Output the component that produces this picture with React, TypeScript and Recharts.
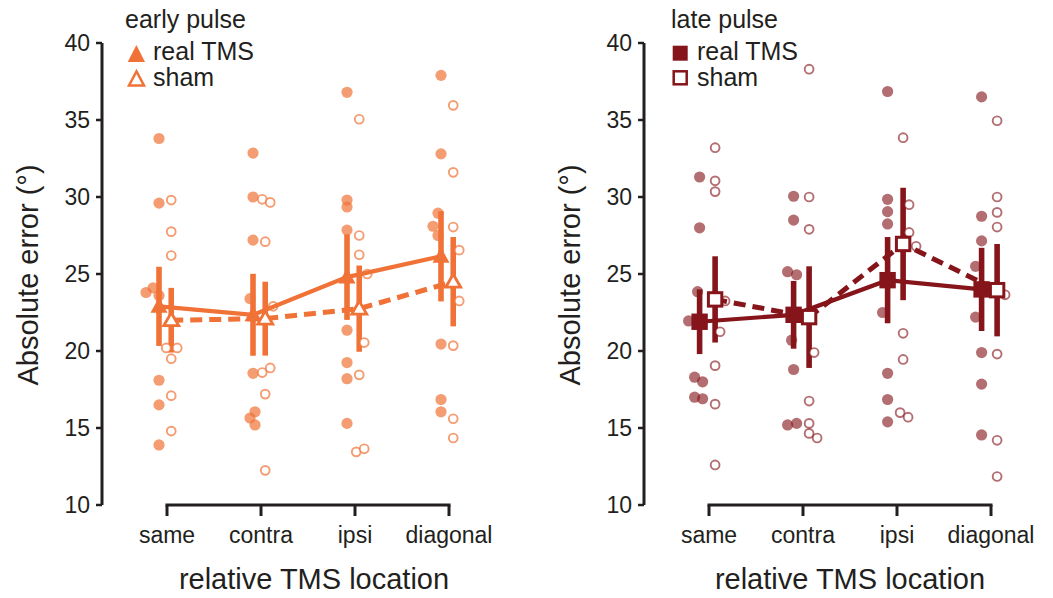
import React from 'react';
import { ComposedChart, Scatter, XAxis, YAxis, ErrorBar, ReferenceLine } from 'recharts';

const categories = ['same', 'contra', 'ipsi', 'diagonal'];
const yTicks = [10, 15, 20, 25, 30, 35, 40];

// early pulse
const earlyRealMean = [22.9, 22.35, 24.8, 26.15];
const earlyRealErr = [2.57, 2.66, 2.78, 2.93];
const earlyShamMean = [22.0, 22.1, 22.75, 24.5];
const earlyShamErr = [2.1, 2.4, 2.8, 2.9];
const earlyRealPts = [
  [33.8, 29.6, 24.1, 23.8, 23.6, 18.1, 16.5, 13.9],
  [32.85, 30.0, 27.2, 23.4, 18.55, 16.05, 15.65, 15.2],
  [36.8, 29.8, 29.35, 27.85, 21.35, 19.25, 18.2, 15.3],
  [37.9, 32.8, 28.95, 28.1, 27.5, 20.45, 16.85, 16.05],
];
const earlyRealJitter = [
  [0, 0, -6, -13, 0, 0, 0, 0],
  [0, 0, 0, -3, 0, 2, -3, 2],
  [0, 0, 0, 0, 0, 0, 0, 0],
  [0, 0, -3, -8, -3, 0, 0, 0],
];
const earlyShamPts = [
  [29.8, 27.75, 26.2, 20.2, 20.2, 19.5, 17.1, 14.8],
  [29.85, 29.65, 27.1, 22.9, 18.6, 18.9, 17.2, 12.25],
  [35.05, 27.5, 26.25, 25.0, 20.55, 18.45, 13.45, 13.65],
  [35.95, 31.6, 28.05, 26.55, 23.25, 20.35, 15.6, 14.35],
];
const earlyShamJitter = [
  [0, 0, 0, -5, 6, 0, 0, 0],
  [-3, 5, 0, 8, -3, 5, 0, 0],
  [0, 0, 0, 8, 5, 0, -3, 5],
  [0, 0, 0, 6, 6, 0, 0, 0],
];

// late pulse
const lateRealMean = [21.9, 22.35, 24.6, 24.0];
const lateRealErr = [2.1, 2.2, 2.8, 2.7];
const lateShamMean = [23.35, 22.2, 26.95, 23.95];
const lateShamErr = [2.8, 3.3, 3.65, 3.0];
const lateRealPts = [
  [31.3, 28.0, 23.85, 21.95, 18.3, 18.0, 17.0, 16.9],
  [30.05, 28.5, 25.15, 24.95, 20.7, 18.8, 15.2, 15.3],
  [36.85, 29.85, 29.05, 28.25, 22.5, 18.55, 16.85, 15.4],
  [36.5, 28.75, 27.15, 25.5, 22.2, 19.9, 17.85, 14.55],
];
const lateRealJitter = [
  [0, 0, -2, -11, -5, 3, -5, 3],
  [0, 0, -6, 3, -2, 0, -6, 3],
  [0, 0, 0, 0, -5, 0, 0, 0],
  [0, 0, 0, -6, -6, 0, 0, 0],
];
const lateShamPts = [
  [33.2, 31.05, 30.35, 23.25, 21.25, 19.05, 16.55, 12.6],
  [38.3, 30.0, 27.9, 19.9, 16.75, 15.3, 14.65, 14.35],
  [33.85, 29.5, 27.7, 26.8, 21.15, 19.45, 16.0, 15.7],
  [34.95, 30.0, 29.0, 28.05, 23.65, 19.8, 14.2, 11.85],
];
const lateShamJitter = [
  [0, 0, 0, 10, 5, 0, 0, 0],
  [0, 0, 0, 5, 0, 0, 0, 8],
  [0, 6, 6, 13, 0, 0, -3, 5],
  [0, 0, 0, 0, 8, 0, 0, 0],
];

const INK = '#231F20';
const FONT = '"Liberation Sans", Arial, Helvetica, sans-serif';

const XTick = (props: any) => {
  const { x, y, payload } = props;
  return (
    <g>
      <line x1={x} x2={x} y1={y} y2={y + 11} stroke={INK} strokeWidth={3} />
      <text x={x} y={y + 38} textAnchor="middle" fontSize={23} fill={INK} fontFamily={FONT}>
        {categories[payload.value]}
      </text>
    </g>
  );
};

function Panel(props: any) {
  const {
    left, width, marginRight, realMean, realErr, shamMean, shamErr,
    realPts, realJit, shamPts, shamJit, main, dotOpacity, marker, realOff, shamOff,
  } = props;
  const mk = (means: number[], errs: number[], off: number) =>
    means.map((m, i) => ({ x: i + off, y: m, err: errs[i] }));
  const mkPts = (pts: number[][], jit: number[][], off: number) =>
    pts.flatMap((arr, i) => arr.map((v, k) => ({ x: i + off, y: v, j: jit[i][k] })));

  const realData = mk(realMean, realErr, realOff);
  const shamData = mk(shamMean, shamErr, shamOff);
  const realDots = mkPts(realPts, realJit, realOff);
  const shamDots = mkPts(shamPts, shamJit, shamOff);

  const filledDot = (p: any) => (
    <circle cx={p.cx + (p.payload?.j || 0)} cy={p.cy} r={5.6} fill={main} fillOpacity={dotOpacity} />
  );
  const openDot = (p: any) => (
    <circle cx={p.cx + (p.payload?.j || 0)} cy={p.cy} r={4.4} fill="#fff" stroke={main} strokeOpacity={dotOpacity} strokeWidth={1.9} />
  );
  const meanShape = (filled: boolean) => (p: any) => {
    const { cx, cy } = p;
    if (marker === 'triangle') {
      return filled ? (
        <polygon points={`${cx - 8.5},${cy + 6.5} ${cx + 8.5},${cy + 6.5} ${cx},${cy - 9}`} fill={main} />
      ) : (
        <polygon points={`${cx - 7.5},${cy + 5.5} ${cx + 7.5},${cy + 5.5} ${cx},${cy - 7.5}`} fill="#fff" stroke={main} strokeWidth={2.8} />
      );
    }
    return filled ? (
      <rect x={cx - 8.2} y={cy - 8.2} width={16.4} height={16.4} fill={main} />
    ) : (
      <rect x={cx - 6.7} y={cy - 6.7} width={13.4} height={13.4} fill="#fff" stroke={main} strokeWidth={3} />
    );
  };

  return (
    <div style={{ position: 'absolute', left, top: 0 }}>
      <ComposedChart width={width} height={598} margin={{ top: 43, right: marginRight, bottom: 0, left: 0 }}>
        <XAxis
          type="number" dataKey="x" domain={[-0.6915, 3.6]} ticks={[0, 1, 2, 3]} interval={0}
          axisLine={false} tickLine={false} tickSize={0} tickMargin={0} height={93}
          tick={(p: any) => <XTick {...p} />} allowDataOverflow
        />
        <YAxis
          type="number" dataKey="y" domain={[10, 40]} ticks={yTicks} interval={0} width={102}
          axisLine={{ stroke: INK, strokeWidth: 3 }} tickLine={{ stroke: INK, strokeWidth: 2.5 }}
          tickSize={6} tickMargin={6}
          tick={{ fontSize: 23, fill: INK, fontFamily: FONT }} allowDataOverflow
        />
        <ReferenceLine segment={[{ x: 0, y: 10 }, { x: 3, y: 10 }]} stroke={INK} strokeWidth={3} strokeLinecap="square" ifOverflow="visible" />
        <Scatter data={realDots} shape={filledDot} isAnimationActive={false} />
        <Scatter data={shamDots} shape={openDot} isAnimationActive={false} />
        <Scatter data={realData} line={{ stroke: main, strokeWidth: 4.2 }} shape={meanShape(true)} isAnimationActive={false}>
          <ErrorBar dataKey="err" direction="y" width={0} stroke={main} strokeWidth={5.6} isAnimationActive={false} />
        </Scatter>
        <Scatter data={shamData} line={{ stroke: main, strokeWidth: 5, strokeDasharray: '12 7' }} shape={meanShape(false)} isAnimationActive={false}>
          <ErrorBar dataKey="err" direction="y" width={0} stroke={main} strokeWidth={5.6} isAnimationActive={false} />
        </Scatter>
      </ComposedChart>
    </div>
  );
}

const ORANGE = '#F07236';
const RED = '#85151A';

export default function App() {
  return (
    <div style={{ position: 'absolute', left: 0, top: 0, width: 1053, height: 598, background: '#fff' }}>
      <Panel
        left={0} width={527} marginRight={21.6}
        realMean={earlyRealMean} realErr={earlyRealErr} shamMean={earlyShamMean} shamErr={earlyShamErr}
        realPts={earlyRealPts} realJit={earlyRealJitter} shamPts={earlyShamPts} shamJit={earlyShamJitter}
        main={ORANGE} dotOpacity={0.7} marker="triangle" realOff={-0.085} shamOff={0.045}
      />
      <Panel
        left={542} width={511} marginRight={5.6}
        realMean={lateRealMean} realErr={lateRealErr} shamMean={lateShamMean} shamErr={lateShamErr}
        realPts={lateRealPts} realJit={lateRealJitter} shamPts={lateShamPts} shamJit={lateShamJitter}
        main={RED} dotOpacity={0.62} marker="square" realOff={-0.1} shamOff={0.065}
      />
      <svg width={1053} height={598} style={{ position: 'absolute', left: 0, top: 0, pointerEvents: 'none' }} fontFamily={FONT}>
        {/* left panel texts */}
        <text x={125} y={28} fontSize={25} fill={INK}>early pulse</text>
        <polygon points="127.7,62 145,62 136.4,45" fill={ORANGE} />
        <text x={153} y={60} fontSize={25} fill={INK}>real TMS</text>
        <polygon points="129,85.5 144,85.5 136.5,71.5" fill="#fff" stroke={ORANGE} strokeWidth={2.5} />
        <text x={153} y={86} fontSize={25} fill={INK}>sham</text>
        <text transform="translate(38,275) rotate(-90)" textAnchor="middle" fontSize={29} fill={INK}>Absolute error (°)</text>
        <text x={314} y={589} textAnchor="middle" fontSize={29} fill={INK}>relative TMS location</text>
        {/* right panel texts */}
        <text x={671} y={28} fontSize={25} fill={INK}>late pulse</text>
        <rect x={672.7} y={45.7} width={15} height={15} fill={RED} />
        <text x={697} y={60} fontSize={25} fill={INK}>real TMS</text>
        <rect x={673.7} y={71.3} width={13} height={13} fill="#fff" stroke={RED} strokeWidth={2.5} />
        <text x={697} y={86} fontSize={25} fill={INK}>sham</text>
        <text transform="translate(580,275) rotate(-90)" textAnchor="middle" fontSize={29} fill={INK}>Absolute error (°)</text>
        <text x={850} y={589} textAnchor="middle" fontSize={29} fill={INK}>relative TMS location</text>
      </svg>
    </div>
  );
}
